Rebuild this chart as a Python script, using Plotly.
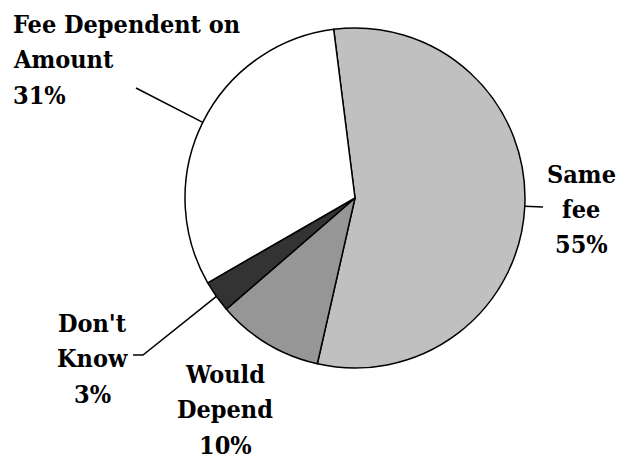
import math
import plotly.graph_objects as go

# data
labels = ["Same fee", "Would Depend", "Don't Know", "Fee Dependent on Amount"]
values = [55, 10, 3, 31]
label_lines = [["Same", "fee"], ["Would", "Depend"], ["Don't", "Know"], ["Fee Dependent on", "Amount"]]
colors = ["#c0c0c0", "#969696", "#333333", "#ffffff"]

W, H = 621, 460
cx, cy, r = 355, 198, 170  # pie centre / radius in pixels
rotation = -7.2

fig = go.Figure(go.Pie(
    labels=labels,
    values=values,
    sort=False,
    direction="clockwise",
    rotation=rotation,
    textinfo="none",
    hoverinfo="label+percent",
    marker=dict(colors=colors, line=dict(color="black", width=1.5)),
    domain=dict(x=[(cx - r) / W, (cx + r) / W], y=[(H - cy - r) / H, (H - cy + r) / H]),
    showlegend=False,
))

# point on the rim at the middle of each slice
total = sum(values)
rim = []
acc = 0
for v in values:
    mid = rotation + (acc + v / 2) / total * 360
    acc += v
    a = math.radians(mid)
    rim.append((cx + r * math.sin(a), cy - r * math.cos(a)))

def px(x, y):
    return x / W, (H - y) / H

font = dict(family="DejaVu Serif Condensed", size=25, color="black")
line_gap = 35.5

# label anchor: x, baseline of first line, xanchor
pos = [
    (581, 183, "center"),
    (225, 383, "center"),
    (92, 332, "center"),
    (11, 33, "left"),
]
annotations = []
for i, (x, y0, xa) in enumerate(pos):
    lines = label_lines[i] + [f"{values[i]}%"]
    for k, t in enumerate(lines):
        X, Y = px(x, y0 + k * line_gap - 9)
        annotations.append(dict(
            text=f"<b>{t}</b>", x=X, y=Y, xref="paper", yref="paper",
            xanchor=xa, yanchor="middle", showarrow=False, font=font,
        ))

# leader lines
leader_ends = {0: [(543, 207)], 2: [(143, 355), (133, 355)], 3: [(136, 88)]}
shapes = []
for i, pts in leader_ends.items():
    path_pts = [rim[i]] + pts
    d = "M " + " L ".join(f"{px(x, y)[0]},{px(x, y)[1]}" for x, y in path_pts)
    shapes.append(dict(type="path", path=d, xref="paper", yref="paper",
                       line=dict(color="black", width=1.5)))

fig.update_layout(
    width=W, height=H,
    margin=dict(l=0, r=0, t=0, b=0),
    paper_bgcolor="white",
    plot_bgcolor="white",
    annotations=annotations,
    shapes=shapes,
)

fig.write_html("out.html", config={"displayModeBar": False},
               post_script="document.body.style.margin='0';")
